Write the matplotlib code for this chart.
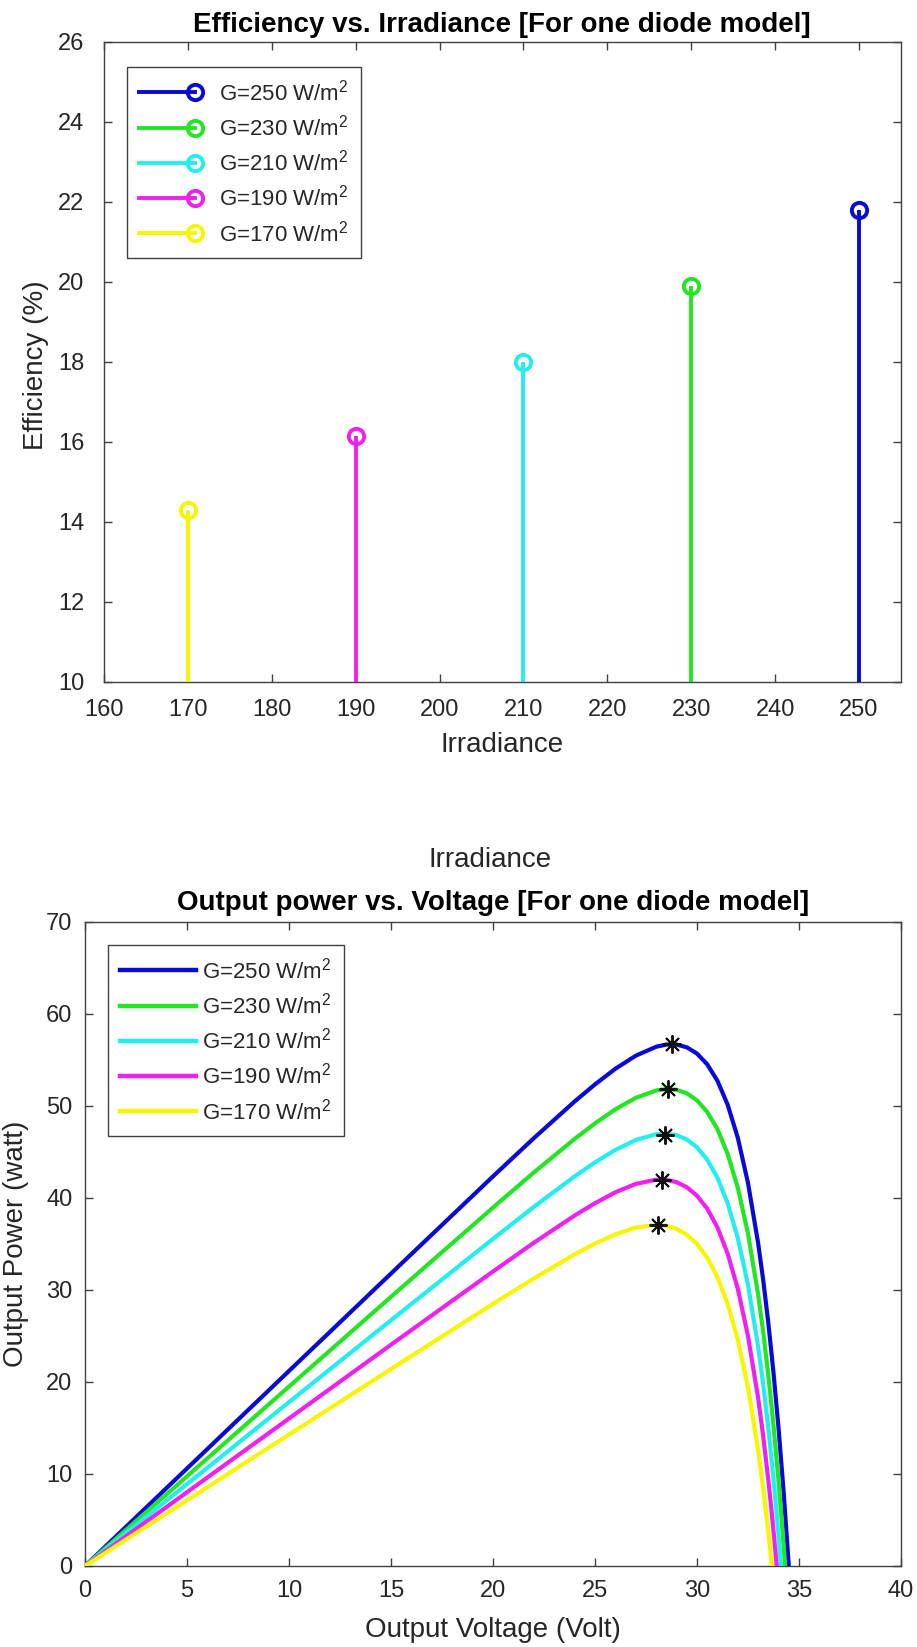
import matplotlib
matplotlib.use("Agg")
import matplotlib.pyplot as plt
from matplotlib.lines import Line2D
from matplotlib.legend_handler import HandlerBase

# ---------------- data ----------------
irradiance = [250, 230, 210, 190, 170]
efficiency = [21.8, 19.9, 18.0, 16.15, 14.3]
labels = ["G=250 W/m$^2$", "G=230 W/m$^2$", "G=210 W/m$^2$", "G=190 W/m$^2$", "G=170 W/m$^2$"]
colors = ["#0a0ad8", "#22e622", "#22eeee", "#f020f0", "#f6f600"]

v_250 = [0, 5, 10, 15, 20, 22, 24, 25, 26, 27, 28, 28.5, 29, 29.5, 30, 30.5, 31, 31.5, 32, 32.5, 33, 33.25, 33.5, 33.75, 34, 34.25, 34.5]
p_250 = [0, 10.60, 21.20, 31.79, 42.35, 46.50, 50.49, 52.35, 54.05, 55.47, 56.44, 56.68, 56.68, 56.38, 55.70, 54.53, 52.75, 50.16, 46.55, 41.64, 35.05, 31.00, 26.35, 21.01, 14.91, 7.95, 0]
v_230 = [0, 5, 10, 15, 20, 22, 24, 25, 26, 27, 28, 28.5, 29, 29.5, 30, 30.5, 31, 31.5, 32, 32.5, 33, 33.25, 33.5, 33.75, 34, 34.15, 34.32]
p_230 = [0, 9.75, 19.50, 29.26, 38.96, 42.77, 46.42, 48.11, 49.64, 50.89, 51.69, 51.84, 51.76, 51.38, 50.61, 49.36, 47.49, 44.81, 41.12, 36.12, 29.46, 25.36, 20.67, 15.29, 9.15, 5.05, 0]
v_210 = [0, 5, 10, 15, 20, 22, 24, 25, 26, 27, 28, 28.5, 29, 29.5, 30, 30.5, 31, 31.5, 32, 32.5, 33, 33.25, 33.5, 33.75, 33.95, 34.12]
p_210 = [0, 8.90, 17.81, 26.71, 35.56, 39.03, 42.35, 43.87, 45.23, 46.31, 46.94, 47.00, 46.83, 46.36, 45.51, 44.17, 42.21, 39.45, 35.66, 30.56, 23.80, 19.65, 14.90, 9.47, 4.58, 0]
v_190 = [0, 5, 10, 15, 20, 22, 24, 25, 26, 27, 28, 28.5, 29, 29.5, 30, 30.5, 31, 31.5, 32, 32.5, 33, 33.25, 33.5, 33.7, 33.91]
p_190 = [0, 8.02, 16.03, 24.05, 32.01, 35.13, 38.09, 39.43, 40.62, 41.53, 41.99, 41.97, 41.72, 41.17, 40.25, 38.84, 36.81, 33.98, 30.14, 25.00, 18.21, 14.05, 9.29, 5.01, 0]
v_170 = [0, 5, 10, 15, 20, 22, 24, 25, 26, 27, 28, 28.5, 29, 29.5, 30, 30.5, 31, 31.5, 32, 32.5, 33, 33.25, 33.5, 33.67]
p_170 = [0, 7.14, 14.28, 21.41, 28.49, 31.25, 33.87, 35.04, 36.05, 36.79, 37.08, 36.98, 36.64, 36.01, 35.01, 33.52, 31.41, 28.51, 24.61, 19.42, 12.57, 8.40, 3.62, 0]

mpp_v = [28.75, 28.6, 28.45, 28.3, 28.1]
mpp_p = [56.7, 51.8, 46.9, 42.0, 37.1]

curves_v = [v_250, v_230, v_210, v_190, v_170]
curves_p = [p_250, p_230, p_210, p_190, p_170]

eff_xticks = [160, 170, 180, 190, 200, 210, 220, 230, 240, 250]
eff_yticks = [10, 12, 14, 16, 18, 20, 22, 24, 26]
pow_xticks = [0, 5, 10, 15, 20, 25, 30, 35, 40]
pow_yticks = [0, 10, 20, 30, 40, 50, 60, 70]

# ---------------- style ----------------
plt.rcParams['font.family'] = ['Liberation Sans', 'DejaVu Sans']
plt.rcParams['mathtext.fontset'] = 'custom'
plt.rcParams['mathtext.rm'] = 'Liberation Sans'
plt.rcParams['mathtext.it'] = 'Liberation Sans:italic'
plt.rcParams['mathtext.bf'] = 'Liberation Sans:bold'

W, H = 917, 1647
fig = plt.figure(figsize=(W / 100, H / 100), dpi=100)
fig.patch.set_facecolor('white')

axc = '#404040'
txc = '#262626'
TICK_FS = 17
LABEL_FS = 20
TITLE_FS = 20
LEG_FS = 16


def px_rect(left, top, right, bottom):
    return [left / W, 1 - bottom / H, (right - left) / W, (bottom - top) / H]


def style_axes(ax, xpad, ypad):
    for s in ax.spines.values():
        s.set_color(axc)
        s.set_linewidth(1.0)
    ax.tick_params(direction='in', length=6, width=1, colors=axc,
                   labelcolor=txc, labelsize=TICK_FS, top=True, right=True)
    ax.tick_params(axis='x', pad=xpad)
    ax.tick_params(axis='y', pad=ypad)


class StemHandler(HandlerBase):
    def create_artists(self, legend, orig_handle, xdescent, ydescent,
                       width, height, fontsize, trans):
        y = (height - ydescent) / 2.0
        c = orig_handle.get_color()
        line = Line2D([-xdescent, width - xdescent], [y, y], color=c, lw=2.8)
        mk = Line2D([width - xdescent], [y], marker='o', ms=11, mfc='none',
                    mec=c, mew=2.8, ls='none')
        line.set_transform(trans)
        mk.set_transform(trans)
        return [line, mk]


# ---------------- top: efficiency stem ----------------
ax1 = fig.add_axes(px_rect(104, 42, 901, 682))
handles1 = []
for x, e, c in zip(irradiance, efficiency, colors):
    ax1.vlines(x, 10, e, color=c, lw=2.8, zorder=3)
    ax1.plot([x], [e], marker='o', ms=11, mfc='none', mec=c, mew=2.8, ls='none', zorder=4)
    handles1.append(Line2D([], [], color=c))
ax1.set_xlim(160, 255)
ax1.set_ylim(10, 26)
ax1.set_xticks(eff_xticks)
ax1.set_yticks(eff_yticks)
style_axes(ax1, 12, 14)
leg1 = ax1.legend(handles1, labels, handler_map={Line2D: StemHandler()},
                  loc='upper left', bbox_to_anchor=(127 / W, 1 - 67 / H),
                  bbox_transform=fig.transFigure, borderaxespad=0,
                  fontsize=LEG_FS, frameon=True, fancybox=False, framealpha=1,
                  edgecolor=axc, handlelength=2.5, handletextpad=1.1,
                  labelspacing=0.42, borderpad=0.55)
leg1.get_frame().set_linewidth(1.0)
for t in leg1.get_texts():
    t.set_color(txc)

fig.text(502 / W, 1 - 25 / H, "Efficiency vs. Irradiance [For one diode model]",
         ha='center', va='center', fontsize=TITLE_FS, fontweight='bold', color='black')
fig.text(502 / W, 1 - 745 / H, "Irradiance", ha='center', va='center',
         fontsize=LABEL_FS, color=txc)
fig.text(36 / W, 1 - 365 / H, "Efficiency (%)", ha='center', va='center',
         rotation=90, fontsize=LABEL_FS, color=txc)

# stray label between panels
fig.text(490 / W, 1 - 860 / H, "Irradiance", ha='center', va='center',
         fontsize=LABEL_FS, color=txc)

# ---------------- bottom: power vs voltage ----------------
ax2 = fig.add_axes(px_rect(85, 922, 901, 1566))
handles2 = []
for v, p, c, lab in zip(curves_v, curves_p, colors, labels):
    h, = ax2.plot(v, p, color=c, lw=3.0, label=lab, zorder=3)
    handles2.append(h)
ax2.plot(mpp_v, mpp_p, ls='none', marker=(8, 2, 0), ms=13, mec='#111111',
         mew=1.4, color='#111111', zorder=5)
ax2.set_xlim(0, 40)
ax2.set_ylim(0, 70)
ax2.set_xticks(pow_xticks)
ax2.set_yticks(pow_yticks)
style_axes(ax2, 10, 9)
leg2 = ax2.legend(handles2, labels, loc='upper left',
                  bbox_to_anchor=(108 / W, 1 - 945 / H),
                  bbox_transform=fig.transFigure, borderaxespad=0,
                  fontsize=LEG_FS, frameon=True, fancybox=False, framealpha=1,
                  edgecolor=axc, handlelength=3.4, handletextpad=0.3,
                  labelspacing=0.42, borderpad=0.55)
leg2.get_frame().set_linewidth(1.0)
for t in leg2.get_texts():
    t.set_color(txc)
for l in leg2.get_lines():
    l.set_linewidth(3.2)

fig.text(493 / W, 1 - 903 / H, "Output power vs. Voltage [For one diode model]",
         ha='center', va='center', fontsize=TITLE_FS, fontweight='bold', color='black')
fig.text(493 / W, 1 - 1630 / H, "Output Voltage (Volt)", ha='center', va='center',
         fontsize=LABEL_FS, color=txc)
fig.text(16 / W, 1 - 1244 / H, "Output Power (watt)", ha='center', va='center',
         rotation=90, fontsize=LABEL_FS, color=txc)

fig.savefig("out.png", dpi=100, facecolor='white')
